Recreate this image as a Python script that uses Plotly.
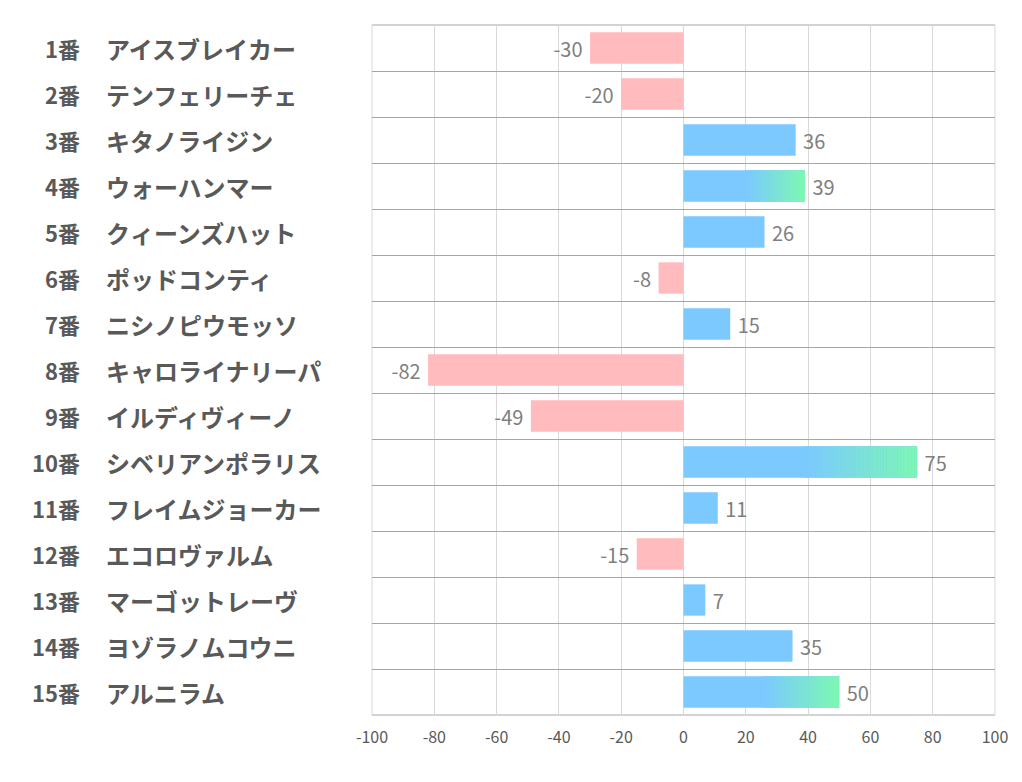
import plotly.graph_objects as go

numbers = ["1番", "2番", "3番", "4番", "5番", "6番", "7番", "8番", "9番", "10番",
           "11番", "12番", "13番", "14番", "15番"]
names = ["アイスブレイカー", "テンフェリーチェ", "キタノライジン", "ウォーハンマー",
         "クィーンズハット", "ポッドコンティ", "ニシノピウモッソ", "キャロライナリーパ",
         "イルディヴィーノ", "シベリアンポラリス", "フレイムジョーカー", "エコロヴァルム",
         "マーゴットレーヴ", "ヨゾラノムコウニ", "アルニラム"]
values = [-30, -20, 36, 39, 26, -8, 15, -82, -49, 75, 11, -15, 7, 35, 50]
gradient_rows = [3, 9, 14]
x_ticks = [-100, -80, -60, -40, -20, 0, 20, 40, 60, 80, 100]

PINK = "#FFBBBE"
BLUE = (123, 201, 255)
GREEN = (124, 248, 178)
FONT = "Noto Sans CJK JP"
BAR_W = 0.68

idx = list(range(len(values)))
colors = [PINK if v < 0 else "rgb(%d,%d,%d)" % BLUE for v in values]
labels = [(str(v) + " ") if v < 0 else (" " + str(v)) for v in values]

fig = go.Figure()
fig.add_trace(go.Bar(
    x=values, y=idx, orientation="h", width=BAR_W,
    marker=dict(color=colors, line=dict(width=0)),
    text=labels, textposition="outside",
    textfont=dict(family=FONT, size=20, color="#7F7F7F"),
    cliponaxis=False, hoverinfo="skip",
))

# gradient overlays on selected bars
N = 40
start_frac = 0.52
for r in gradient_rows:
    v = values[r]
    s = v * start_frac
    step = (v - s) / N
    bases, lens, cols = [], [], []
    for k in range(N):
        t = (k + 0.5) / N
        c = tuple(round(BLUE[j] + (GREEN[j] - BLUE[j]) * t) for j in range(3))
        bases.append(s + k * step)
        lens.append(step * 1.02)
        cols.append("rgb(%d,%d,%d)" % c)
    fig.add_trace(go.Bar(
        x=lens, base=bases, y=[r] * N, orientation="h", width=BAR_W,
        marker=dict(color=cols, line=dict(width=0)),
        hoverinfo="skip", showlegend=False,
    ))

annotations = []
for i in idx:
    annotations.append(dict(
        x=-0.4655, y=i, xref="paper", yref="y", text=numbers[i],
        xanchor="right", yanchor="middle", showarrow=False,
        font=dict(family=FONT, size=22, color="#595959", weight="bold"),
    ))
    annotations.append(dict(
        x=-0.4300, y=i, xref="paper", yref="y", text=names[i],
        xanchor="left", yanchor="middle", showarrow=False,
        font=dict(family=FONT, size=24, color="#595959", weight="bold"),
    ))

shapes = [
    dict(type="line", xref="paper", yref="paper", x0=0, x1=1, y0=1, y1=1,
         line=dict(color="#A6A6A6", width=1), layer="below"),
    dict(type="line", xref="paper", yref="paper", x0=0, x1=1, y0=0, y1=0,
         line=dict(color="#A6A6A6", width=1), layer="below"),
    dict(type="line", xref="paper", yref="paper", x0=0, x1=0, y0=0, y1=1,
         line=dict(color="#D9D9D9", width=1), layer="below"),
    dict(type="line", xref="paper", yref="paper", x0=1, x1=1, y0=0, y1=1,
         line=dict(color="#D9D9D9", width=1), layer="below"),
]

fig.update_layout(
    width=1006, height=766,
    margin=dict(l=364, r=19, t=17, b=59, autoexpand=False),
    plot_bgcolor="white", paper_bgcolor="white",
    barmode="overlay", showlegend=False,
    annotations=annotations, shapes=shapes,
    xaxis=dict(
        range=[-100, 100], tickvals=x_ticks, ticktext=[str(t) for t in x_ticks],
        showgrid=True, gridcolor="#D9D9D9", gridwidth=1, zeroline=False,
        tickfont=dict(family=FONT, size=16, color="#595959"),
        showline=False, ticks="", ticklabelstandoff=11, automargin=False,
    ),
    yaxis=dict(
        range=[14.5, -0.5], tickvals=[i - 0.5 for i in range(len(values) + 1)],
        showticklabels=False, showgrid=True, gridcolor="#A6A6A6", gridwidth=1,
        zeroline=False, showline=False, ticks="", automargin=False,
    ),
)

fig.write_html("out.html")
